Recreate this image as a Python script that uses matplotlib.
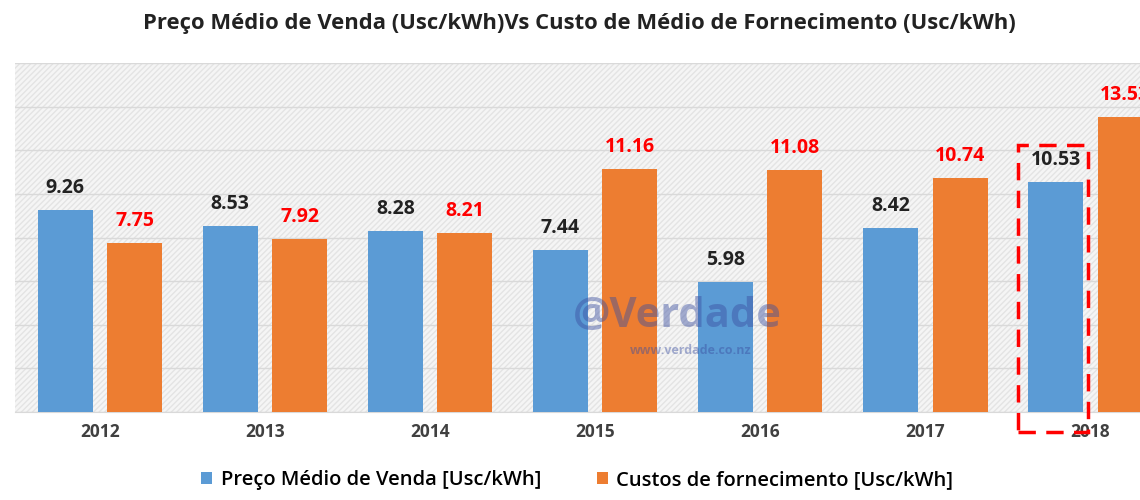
import numpy as np
from matplotlib import pyplot as plt
from matplotlib.patches import Rectangle

years = ["2012", "2013", "2014", "2015", "2016", "2017", "2018"]
preco_venda = [9.26, 8.53, 8.28, 7.44, 5.98, 8.42, 10.53]
custo_fornecimento = [7.75, 7.92, 8.21, 11.16, 11.08, 10.74, 13.53]

blue = "#5B9BD5"
orange = "#ED7D31"

plt.rcParams['font.family'] = ['Open Sans', 'DejaVu Sans']


def main():
    fig = plt.figure(figsize=(11.4, 5), dpi=100)
    ax = fig.add_axes([0.013, 0.176, 0.987, 0.698])

    x = np.arange(len(years))
    w = 0.333
    off = 0.21

    # hatched light gray background
    ax.set_facecolor("#f5f5f5")
    ax.add_patch(Rectangle((0, 0), 1, 1, transform=ax.transAxes,
                           facecolor="none", edgecolor="#e4e4e4",
                           hatch="//////", linewidth=0, zorder=0))

    ax.bar(x - off, preco_venda, w, color=blue, zorder=3,
           label="Preço Médio de Venda [Usc/kWh]")
    ax.bar(x + off, custo_fornecimento, w, color=orange, zorder=3,
           label="Custos de fornecimento [Usc/kWh]")

    for i in range(len(years)):
        ax.text(x[i] - off, preco_venda[i] + 0.55, "{:.2f}".format(preco_venda[i]),
                ha="center", va="bottom", fontsize=14, fontweight="bold",
                color="#222222", zorder=5)
        ax.text(x[i] + off, custo_fornecimento[i] + 0.55,
                "{:.2f}".format(custo_fornecimento[i]),
                ha="center", va="bottom", fontsize=14, fontweight="bold",
                color="#FF0000", zorder=5)

    # watermark
    ax.text(3.5, 4.4, "@Verdade", ha="center", va="center", fontsize=30,
            fontweight="bold", color="#3b4fa0", alpha=0.45, zorder=6)
    ax.text(3.58, 3.1, "www.verdade.co.nz", ha="center", va="top",
            fontsize=9, fontweight="bold", color="#3b4fa0", alpha=0.45, zorder=6)

    # dashed highlight around 2018 blue bar
    ax.add_patch(Rectangle((5.564, -0.92), 0.424, 13.15, fill=False,
                           edgecolor="#FF0000", linestyle=(0, (5, 3)),
                           linewidth=2.5, clip_on=False, zorder=7))

    ax.set_ylim(0, 16)
    ax.set_xlim(-0.515, 6.30)
    ax.set_yticks(np.arange(0, 17, 2))
    ax.set_yticklabels([])
    ax.tick_params(axis="y", length=0)
    ax.grid(axis="y", color="#d9d9d9", linewidth=1, zorder=1)
    ax.set_axisbelow(True)

    ax.set_xticks(x)
    ax.set_xticklabels(years, fontsize=12.5, fontweight="bold", color="#404040")
    ax.tick_params(axis="x", length=0, pad=8)

    for side in ["top", "right", "left"]:
        ax.spines[side].set_visible(False)
    ax.spines["bottom"].set_color("#d9d9d9")

    fig.text(0.508, 0.952,
             "Preço Médio de Venda (Usc/kWh)Vs Custo de Médio de Fornecimento (Usc/kWh)",
             ha="center", va="center", fontsize=15.8, fontweight="bold",
             color="#222222")

    ax.legend(loc="center", bbox_to_anchor=(0.5, -0.195), ncol=2, frameon=False,
              prop={"size": 14.5, "weight": "semibold"},
              handlelength=0.55, handleheight=0.55,
              handletextpad=0.4, columnspacing=2.8)

    fig.savefig("out.png", dpi=100)


if __name__ == "__main__":
    main()
